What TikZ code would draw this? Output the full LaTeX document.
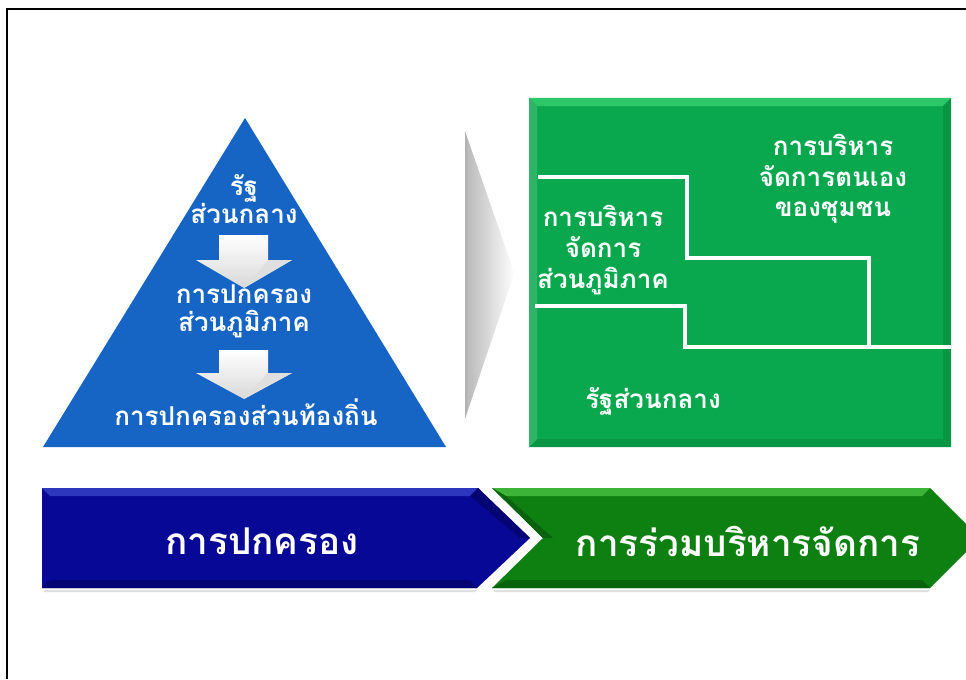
\documentclass[tikz,border=0pt]{standalone}
\usepackage{fontspec}
\newfontfamily\thaifont[Script=Thai]{Loma}
\usetikzlibrary{shadings}
\definecolor{triblue}{RGB}{22,100,196}
\definecolor{boxgreen}{RGB}{10,168,78}
\definecolor{boxgreenlight}{RGB}{45,200,105}
\definecolor{boxgreendark}{RGB}{8,150,68}
\definecolor{navy}{RGB}{8,8,150}
\definecolor{navylight}{RGB}{45,55,190}
\definecolor{navydark}{RGB}{4,4,115}
\definecolor{chgreen}{RGB}{14,128,18}
\definecolor{chgreenlight}{RGB}{60,180,55}
\definecolor{chgreendark}{RGB}{8,100,12}
\tikzset{
  ttext/.style={text=white, font=\thaifont\bfseries\fontsize{14.8}{16}\selectfont, align=center, inner sep=0pt},
  gtext/.style={text=white, font=\thaifont\bfseries\fontsize{14.8}{17.4}\selectfont, align=center, inner sep=0pt},
  btext/.style={text=white, font=\thaifont\bfseries\fontsize{21}{24}\selectfont, inner sep=0pt},
  wline/.style={draw=white, line width=2.8pt},
  downarrow/.style={top color=white, bottom color=gray!30, draw=none},
}
\begin{document}
\begin{tikzpicture}[x=0.02cm, y=-0.02cm]
\useasboundingbox (0,0) rectangle (966,679);
\clip (0,0) rectangle (966,679);
\fill[white] (0,0) rectangle (966,679);
% frame
\draw[black, line width=1.2pt] (7,679) -- (7,9) -- (966,9);
% triangle
\fill[triblue] (245,118) -- (446,447) -- (43,447) -- cycle;
% arrows in triangle
\shade[downarrow] (219,235) -- (268,235) -- (268,260) -- (292,260) -- (244,288) -- (196,260) -- (219,260) -- cycle;
\fill[gray!25] (268,260) -- (292,260) -- (244,288) -- cycle;
\shade[downarrow] (219,350) -- (268,350) -- (268,373) -- (292,373) -- (244,399) -- (196,373) -- (219,373) -- cycle;
\fill[gray!25] (268,373) -- (292,373) -- (244,399) -- cycle;
\node[ttext] (t1) at (244,199) {รัฐ\\ส่วนกลาง};
\node[ttext] (t2) at (244,311) {การปกครอง\\ส่วนภูมิภาค};
\node[ttext] (t3) at (246,412) {การปกครองส่วนท้องถิ่น};
% grey chevron
\shade[left color=gray!55, right color=white] (466,132) -- (515,273) -- (466,418) -- cycle;
\draw[gray!60, line width=0.8pt] (466,132) -- (466,418);
\draw[white, line width=0.6pt] (466,132) -- (515,273) -- (466,418);
% green box
\fill[boxgreen] (529,98) rectangle (951,447);
\fill[boxgreenlight] (529,98) -- (951,98) -- (943,106) -- (537,106) -- cycle;
\fill[boxgreendark] (951,98) -- (951,447) -- (943,439) -- (943,106) -- cycle;
\fill[boxgreendark] (529,447) -- (951,447) -- (943,439) -- (537,439) -- cycle;
\fill[boxgreen!85!white] (529,98) -- (537,106) -- (537,439) -- (529,447) -- cycle;
\draw[wline] (538,177) -- (687,177) -- (687,258) -- (869,258) -- (869,347);
\draw[wline] (535,306) -- (685,306) -- (685,347) -- (951,347);
\node[gtext] (g1) at (833,179) {การบริหาร\\จัดการตนเอง\\ของชุมชน};
\node[gtext] (g2) at (603,250) {การบริหาร\\จัดการ\\ส่วนภูมิภาค};
\node[gtext] (g3) at (653,401) {รัฐส่วนกลาง};
% bottom chevrons
\fill[gray!25] (44,590) -- (477,590) -- (475,592) -- (44,592) -- cycle;
\fill[gray!25] (494,590) -- (930,590) -- (928,592) -- (494,592) -- cycle;
\fill[navy] (42,488) -- (478,488) -- (530,538) -- (477,588) -- (42,588) -- cycle;
\fill[navylight] (42,488) -- (478,488) -- (470,496) -- (50,496) -- cycle;
\fill[navydark] (478,488) -- (530,538) -- (520,538) -- (470,496) -- cycle;
\fill[navydark] (42,588) -- (477,588) -- (470,580) -- (50,580) -- cycle;
\fill[chgreen] (492,488) -- (930,488) -- (980,538) -- (930,588) -- (492,588) -- (543,538) -- cycle;
\fill[chgreenlight] (492,488) -- (930,488) -- (922,496) -- (506,496) -- cycle;
\fill[chgreendark] (492,588) -- (930,588) -- (922,580) -- (506,580) -- cycle;
\fill[chgreendark] (543,538) -- (553,538) -- (506,496) -- (492,488) -- cycle;
\node[btext] (b1) at (262,541) {การปกครอง};
\node[btext] (b2) at (748,541) {การร่วมบริหารจัดการ};
\end{tikzpicture}
\end{document}
